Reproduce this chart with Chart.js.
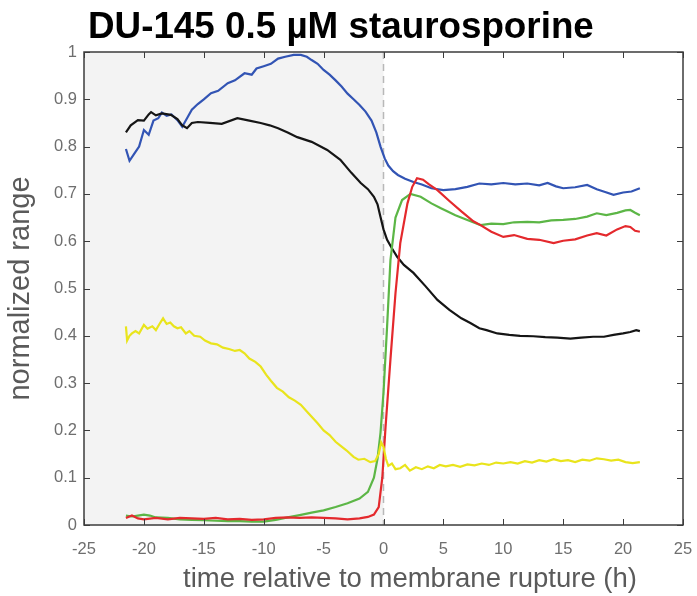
<!DOCTYPE html>
<html>
<head>
<meta charset="utf-8">
<script src="https://cdn.jsdelivr.net/npm/chart.js@4.4.1/dist/chart.umd.min.js"></script>
<style>
  html, body { margin: 0; padding: 0; background: #ffffff; }
  #wrap { width: 697px; height: 596px; position: relative; }
</style>
</head>
<body>
<div id="wrap"><canvas id="c" width="697" height="596"></canvas></div>
<script>
// ---- data ----
const chartTitle = "DU-145 0.5 µM staurosporine";
const xTitle = "time relative to membrane rupture (h)";
const yTitle = "normalized range";
const xTicks = [-25, -20, -15, -10, -5, 0, 5, 10, 15, 20, 25];
const yTicks = [0, 0.1, 0.2, 0.3, 0.4, 0.5, 0.6, 0.7, 0.8, 0.9, 1];
const shadeFrom = -25, shadeTo = 0, ruptureTime = 0;

const tBlue = [-21.5,-21.2,-20.8,-20.4,-20,-19.6,-19.2,-18.8,-18.5,-18.1,-17.7,-17.2,-16.8,-16.4,-16,-15.5,-15,-14.4,-13.8,-13,-12.4,-11.6,-11,-10.6,-10,-9.4,-8.8,-8.2,-7.5,-6.9,-6.4,-6,-5.5,-5,-4.5,-4,-3.5,-3,-2.5,-2,-1.5,-1,-0.6,-0.25,0.1,0.4,0.8,1.2,1.8,2.5,3.2,4,5,6,7,8,9,10,11,12,13,13.7,14.4,15,16,17,17.8,18.5,19.2,20,20.7,21.4];
const vBlue = [0.795,0.77,0.785,0.80,0.835,0.825,0.855,0.86,0.872,0.865,0.868,0.856,0.842,0.86,0.878,0.89,0.90,0.913,0.918,0.934,0.94,0.955,0.952,0.965,0.97,0.975,0.986,0.99,0.994,0.994,0.99,0.983,0.975,0.962,0.952,0.94,0.927,0.912,0.90,0.888,0.874,0.855,0.83,0.80,0.775,0.76,0.748,0.74,0.732,0.725,0.72,0.712,0.708,0.71,0.715,0.722,0.72,0.723,0.72,0.722,0.718,0.723,0.716,0.712,0.714,0.719,0.71,0.704,0.698,0.703,0.705,0.712];

const tBlack = [-21.5,-21.1,-20.5,-20,-19.6,-19.4,-19,-18.5,-17.75,-17.2,-16.8,-16.4,-16,-15.5,-14.5,-13.5,-12.2,-11.2,-10.25,-9.5,-8.8,-8,-7.2,-6,-4.7,-3.6,-2.7,-1.9,-1.3,-0.8,-0.5,-0.25,0,0.3,0.7,1.14,1.7,2.5,3.5,4.5,5.5,6.5,7.25,8,8.6,9.5,10.5,11.4,12.5,13.5,14.5,15.6,16.5,17.5,18.4,19.2,20,20.6,21.1,21.4];
const vBlack = [0.83,0.845,0.856,0.855,0.868,0.873,0.866,0.87,0.867,0.858,0.845,0.839,0.85,0.852,0.85,0.848,0.86,0.855,0.85,0.845,0.839,0.83,0.82,0.81,0.793,0.772,0.745,0.723,0.71,0.694,0.678,0.651,0.625,0.603,0.585,0.567,0.55,0.533,0.505,0.476,0.455,0.437,0.427,0.416,0.412,0.405,0.402,0.40,0.399,0.397,0.396,0.394,0.396,0.398,0.398,0.402,0.405,0.408,0.412,0.41];

const tRed = [-21.5,-21,-20.5,-20,-19,-18,-17,-16,-15,-14,-13,-12,-11,-10,-9,-8,-7,-6,-5,-4,-3,-2,-1.3,-0.8,-0.4,-0.1,0.17,0.58,1,1.4,2,2.4,2.8,3.3,3.8,4.5,5.5,6.5,7.5,8.1,9,10,10.9,12,13,14.2,15,16,17,17.8,18.6,19.5,20.2,20.6,21,21.4];
const vRed = [0.015,0.02,0.014,0.012,0.015,0.012,0.015,0.014,0.013,0.015,0.012,0.013,0.011,0.012,0.015,0.016,0.015,0.016,0.015,0.014,0.012,0.014,0.017,0.022,0.038,0.10,0.207,0.35,0.49,0.596,0.68,0.715,0.733,0.73,0.72,0.708,0.685,0.663,0.642,0.634,0.62,0.609,0.613,0.605,0.603,0.596,0.601,0.604,0.612,0.617,0.612,0.625,0.632,0.63,0.622,0.62];

const tGreen = [-21.5,-21,-20.5,-20,-19.5,-19,-18,-17,-16,-15,-14,-13,-12,-11,-10,-9,-8,-7,-6,-5,-4,-3,-2,-1.3,-0.8,-0.5,-0.25,0,0.3,0.58,1,1.55,2.25,3.1,4,4.75,6,7,8.1,9,10,10.9,12,13,14,15,16,17,17.8,18.6,19.5,20.2,20.6,21,21.4];
const vGreen = [0.02,0.018,0.02,0.022,0.02,0.016,0.015,0.012,0.011,0.01,0.009,0.008,0.008,0.007,0.007,0.011,0.016,0.021,0.026,0.031,0.038,0.046,0.056,0.07,0.10,0.14,0.195,0.28,0.42,0.56,0.65,0.687,0.70,0.694,0.68,0.67,0.655,0.645,0.634,0.637,0.636,0.64,0.641,0.64,0.644,0.645,0.647,0.652,0.659,0.655,0.66,0.665,0.666,0.66,0.655];

const tYellow = [-21.5,-21.4,-21.2,-21,-20.7,-20.4,-20,-19.7,-19.3,-19,-18.7,-18.4,-18.1,-17.8,-17.5,-17.2,-16.9,-16.5,-16.2,-15.8,-15.3,-14.9,-14.4,-13.9,-13.4,-12.9,-12.4,-12,-11.6,-11.2,-10.7,-10.25,-9.8,-9.4,-8.9,-8.4,-7.9,-7.4,-6.9,-6.4,-5.9,-5.5,-5,-4.5,-4,-3.6,-3.1,-2.5,-2.1,-1.6,-1.1,-0.7,-0.4,-0.2,0,0.2,0.4,0.7,1,1.4,1.8,2.2,2.7,3.2,3.7,4.2,4.7,5.2,5.8,6.4,7,7.6,8.2,8.8,9.4,10,10.6,11.2,11.8,12.4,13,13.6,14.2,14.8,15.4,16,16.6,17.2,17.8,18.4,19,19.6,20.2,20.8,21.4];
const vYellow = [0.42,0.39,0.40,0.405,0.41,0.405,0.423,0.415,0.42,0.412,0.425,0.437,0.425,0.428,0.42,0.416,0.418,0.405,0.41,0.40,0.398,0.39,0.384,0.382,0.375,0.372,0.368,0.37,0.363,0.352,0.345,0.335,0.318,0.305,0.29,0.282,0.27,0.263,0.254,0.24,0.226,0.215,0.20,0.19,0.176,0.168,0.158,0.144,0.138,0.14,0.133,0.135,0.15,0.175,0.165,0.14,0.125,0.13,0.118,0.12,0.127,0.115,0.122,0.118,0.124,0.12,0.127,0.124,0.127,0.123,0.128,0.126,0.13,0.127,0.132,0.13,0.133,0.13,0.135,0.132,0.137,0.134,0.139,0.135,0.137,0.133,0.138,0.136,0.141,0.139,0.136,0.138,0.133,0.131,0.133];

const seriesColors = { blue: "#3254b4", black: "#151515", red: "#e4292d", green: "#5cb646", yellow: "#e9e41c" };

function pts(ts, vs) { return ts.map((t, i) => ({ x: t, y: vs[i] })); }

const FONT = "'Liberation Sans', Arial, sans-serif";

const decorPlugin = {
  id: "decor",
  beforeDatasetsDraw(chart) {
    const { ctx, chartArea: a, scales: { x } } = chart;
    ctx.save();
    const x0 = x.getPixelForValue(shadeFrom), x1 = x.getPixelForValue(shadeTo);
    ctx.fillStyle = "#f3f3f3";
    ctx.fillRect(x0, a.top, x1 - x0, a.bottom - a.top);
    const xr = x.getPixelForValue(ruptureTime);
    ctx.strokeStyle = "#b8b8b8";
    ctx.lineWidth = 1.5;
    ctx.setLineDash([7, 5]);
    ctx.beginPath();
    ctx.moveTo(xr, a.top);
    ctx.lineTo(xr, a.bottom);
    ctx.stroke();
    ctx.restore();
  },
  afterDatasetsDraw(chart) {
    const { ctx, chartArea: a, scales: { x, y } } = chart;
    ctx.save();
    ctx.strokeStyle = "#3c3c3c";
    ctx.lineWidth = 1.5;
    ctx.strokeRect(a.left, a.top, a.right - a.left, a.bottom - a.top);
    const tl = 6;
    ctx.lineWidth = 1;
    ctx.beginPath();
    xTicks.forEach(v => {
      const px = Math.round(x.getPixelForValue(v)) + 0.5;
      ctx.moveTo(px, a.bottom); ctx.lineTo(px, a.bottom - tl);
      ctx.moveTo(px, a.top); ctx.lineTo(px, a.top + tl);
    });
    yTicks.forEach(v => {
      const py = Math.round(y.getPixelForValue(v)) + 0.5;
      ctx.moveTo(a.left, py); ctx.lineTo(a.left + tl, py);
      ctx.moveTo(a.right, py); ctx.lineTo(a.right - tl, py);
    });
    ctx.stroke();
    ctx.restore();
  },
  afterDraw(chart) {
    const { ctx } = chart;
    ctx.save();
    ctx.fillStyle = "#5a5a5a";
    ctx.font = "27.5px " + FONT;
    ctx.textAlign = "center";
    ctx.textBaseline = "alphabetic";
    ctx.fillText(xTitle, 410, 587);
    ctx.fillStyle = "#000000";
    ctx.font = "bold 36.8px " + FONT;
    ctx.textAlign = "left";
    ctx.fillText(chartTitle, 88, 38);
    ctx.restore();
  }
};

new Chart(document.getElementById("c"), {
  type: "line",
  data: {
    datasets: [
      { label: "yellow", data: pts(tYellow, vYellow), borderColor: seriesColors.yellow },
      { label: "red", data: pts(tRed, vRed), borderColor: seriesColors.red },
      { label: "green", data: pts(tGreen, vGreen), borderColor: seriesColors.green },
      { label: "black", data: pts(tBlack, vBlack), borderColor: seriesColors.black },
      { label: "blue", data: pts(tBlue, vBlue), borderColor: seriesColors.blue }
    ].map(d => Object.assign(d, { borderWidth: 2.2, pointRadius: 0, tension: 0, fill: false }))
  },
  options: {
    responsive: false,
    animation: false,
    devicePixelRatio: 1,
    layout: { padding: { left: 0, right: 14, top: 52, bottom: 0 } },
    plugins: {
      legend: { display: false },
      tooltip: { enabled: false },
      title: { display: false }
    },
    scales: {
      x: {
        type: "linear",
        min: -25, max: 25,
        afterBuildTicks: s => { s.ticks = xTicks.map(v => ({ value: v })); },
        afterFit: s => { s.height = 71; s.paddingLeft = 0; s.paddingRight = 0; },
        grid: { display: false, drawTicks: false },
        border: { display: false },
        ticks: { color: "#6e6e6e", font: { family: FONT, size: 16.5 }, padding: 15, maxRotation: 0 },
        title: { display: false }
      },
      y: {
        type: "linear",
        min: 0, max: 1,
        afterBuildTicks: s => { s.ticks = yTicks.map(v => ({ value: v })); },
        afterFit: s => { s.width = 84; s.paddingTop = 0; s.paddingBottom = 0; },
        grid: { display: false, drawTicks: false },
        border: { display: false },
        ticks: { color: "#6e6e6e", font: { family: FONT, size: 16.5 }, padding: 7,
                 callback: v => String(+v.toFixed(1)) },
        title: { display: true, text: yTitle, color: "#5a5a5a",
                 font: { family: FONT, size: 29, lineHeight: 1.2 }, padding: { top: 4, bottom: 0 } }
      }
    }
  },
  plugins: [decorPlugin]
});
</script>
</body>
</html>
